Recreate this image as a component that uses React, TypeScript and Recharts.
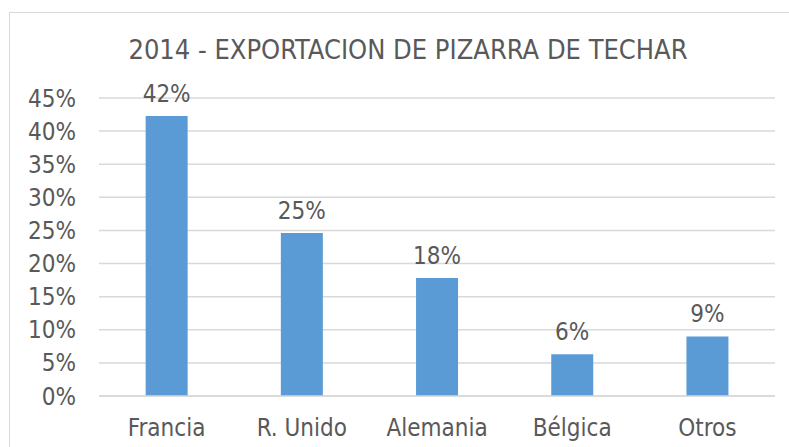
import { BarChart, Bar, XAxis, YAxis, CartesianGrid, LabelList } from 'recharts';

const categories = ['Francia', 'R. Unido', 'Alemania', 'Bélgica', 'Otros'];
const shares = [0.423, 0.246, 0.178, 0.063, 0.09];
const yTicks = [0, 0.05, 0.1, 0.15, 0.2, 0.25, 0.3, 0.35, 0.4, 0.45];

const FONT = '"DejaVu Sans Condensed", "DejaVu Sans", sans-serif';
const TEXT = '#595959';

const data = categories.map((name, i) => ({ name, value: shares[i] }));

const pct = (v: number) => `${Math.round(v * 100)}%`;

export default function App() {
  const axisTick = { fill: TEXT, fontSize: 24, fontFamily: FONT };

  return (
    <div style={{ position: 'absolute', left: 0, top: 0, width: 789, height: 447, overflow: 'hidden', background: '#fff' }}>
      {/* marco del gráfico (sigue fuera de la captura por la derecha y abajo) */}
      <div
        style={{
          position: 'absolute',
          left: 9,
          top: 12,
          width: 900,
          height: 600,
          border: '1px solid #d9d9d9',
        }}
      />
      <div
        style={{
          position: 'absolute',
          left: 0,
          width: 816,
          top: 34,
          textAlign: 'center',
          fontFamily: FONT,
          fontSize: 27,
          color: TEXT,
          lineHeight: '32px',
        }}
      >
        2014 - EXPORTACION DE PIZARRA DE TECHAR
      </div>
      <div style={{ position: 'absolute', left: 0, top: 0 }}>
        <BarChart
          width={789}
          height={447}
          data={data}
          margin={{ top: 98, right: 14, bottom: 11, left: 9 }}
          barCategoryGap="34.5%"
        >
          <CartesianGrid vertical={false} stroke="#d9d9d9" strokeWidth={1.5} />
          <XAxis
            dataKey="name"
            axisLine={{ stroke: '#d9d9d9', strokeWidth: 1.5 }}
            tickLine={false}
            tick={axisTick}
            tickMargin={17}
            height={40}
            interval={0}
          />
          <YAxis
            domain={[0, 0.45]}
            ticks={yTicks}
            tickFormatter={pct}
            axisLine={false}
            tickLine={false}
            tick={axisTick}
            tickMargin={17}
            width={90}
            interval={0}
          />
          <Bar dataKey="value" fill="#5B9BD5" isAnimationActive={false}>
            <LabelList
              dataKey="value"
              position="top"
              offset={14}
              formatter={(v: number) => pct(v)}
              fill={TEXT}
              fontSize={24}
              fontFamily={FONT}
            />
          </Bar>
        </BarChart>
      </div>
    </div>
  );
}
